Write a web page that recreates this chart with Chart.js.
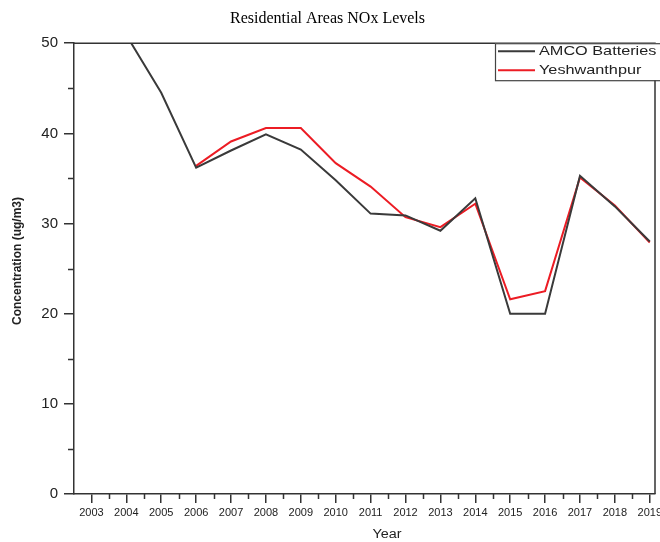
<!DOCTYPE html>
<html>
<head>
<meta charset="utf-8">
<script src="https://cdn.jsdelivr.net/npm/chart.js@4.4.1/dist/chart.umd.min.js"></script>
<style>
  html, body { margin: 0; padding: 0; background: #fff; }
  #wrap { width: 660px; height: 542px; }
</style>
</head>
<body>
<div id="wrap"><canvas id="c" width="660" height="542"></canvas></div>
<script>
// Years on the horizontal axis
const years = [2003, 2004, 2005, 2006, 2007, 2008, 2009, 2010, 2011, 2012, 2013, 2014, 2015, 2016, 2017, 2018, 2019];

// NOx concentration (ug/m3) per monitoring station
const amcoBatteries = [null, 50.9, 44.5, 36.2, 38.1, 39.9, 38.2, 34.8, 31.1, 30.9, 29.2, 32.8, 20.0, 20.0, 35.3, 31.9, 28.0];
const yeshwanthpur  = [null, null, null, 36.4, 39.1, 40.6, 40.6, 36.7, 34.1, 30.7, 29.6, 32.2, 21.6, 22.5, 35.1, 32.0, 27.9];

// Labelled ticks on the vertical axis
const yTickValues = [0, 10, 20, 30, 40, 50];

const seriesNames = ['AMCO Batteries', 'Yeshwanthpur'];
const seriesColors = ['#3a3a3a', '#ec1c24'];
const xAxisTitle = 'Year';
const yAxisTitle = 'Concentration (ug/m3)';

const toPoints = arr => years.map((y, i) => ({ x: y, y: arr[i] }));

const AXIS = '#333';
const SANS = '"Liberation Sans", Arial, sans-serif';

// draws text squeezed/widened horizontally by factor sx
function stretchedText(ctx, text, x, y, sx, align) {
  ctx.save();
  ctx.translate(x, y);
  ctx.scale(sx, 1);
  ctx.textAlign = align;
  ctx.fillText(text, 0, 0);
  ctx.restore();
}

// Frame, minor ticks, axis titles and the boxed legend
const decorations = {
  id: 'decorations',
  afterDraw(chart) {
    const { ctx, chartArea: a, scales } = chart;
    const xs = scales.x, ys = scales.y;
    ctx.save();
    ctx.strokeStyle = AXIS;
    ctx.lineWidth = 1.5;
    // top and right frame
    ctx.beginPath();
    ctx.moveTo(a.left, a.top);
    ctx.lineTo(a.right, a.top);
    ctx.lineTo(a.right, a.bottom);
    ctx.stroke();
    // minor ticks on x (half years)
    ctx.beginPath();
    for (let i = 0; i < years.length; i++) {
      const v = years[i] + 0.5;
      if (v > xs.max) break;
      const px = Math.round(xs.getPixelForValue(v)) + 0.5;
      ctx.moveTo(px, a.bottom);
      ctx.lineTo(px, a.bottom + 5);
    }
    // minor ticks on y
    for (let i = 0; i < yTickValues.length - 1; i++) {
      const v = (yTickValues[i] + yTickValues[i + 1]) / 2;
      const py = Math.round(ys.getPixelForValue(v)) + 0.5;
      ctx.moveTo(a.left, py);
      ctx.lineTo(a.left - 6, py);
    }
    ctx.stroke();

    // axis titles
    ctx.fillStyle = '#222';
    ctx.textBaseline = 'middle';
    ctx.font = '12px ' + SANS;
    stretchedText(ctx, xAxisTitle, 387, 535, 1.2, 'center');
    ctx.save();
    ctx.translate(18, 261);
    ctx.rotate(-Math.PI / 2);
    ctx.font = 'bold 12px ' + SANS;
    ctx.textAlign = 'center';
    ctx.fillText(yAxisTitle, 0, 0);
    ctx.restore();

    // legend box
    const lx = 495, ly = a.top, lw = 175, lh = 37;
    ctx.lineWidth = 1.2;
    ctx.strokeStyle = '#444';
    ctx.fillStyle = '#fff';
    ctx.fillRect(lx, ly, lw, lh);
    ctx.strokeRect(lx + 0.5, ly + 0.5, lw, lh);
    ctx.font = '13px ' + SANS;
    ctx.textBaseline = 'middle';
    chart.data.datasets.forEach((ds, i) => {
      const yy = ly + 8 + i * 19;
      ctx.strokeStyle = ds.borderColor;
      ctx.lineWidth = 2;
      ctx.beginPath();
      ctx.moveTo(lx + 3, yy);
      ctx.lineTo(lx + 40, yy);
      ctx.stroke();
      ctx.fillStyle = '#222';
      stretchedText(ctx, ds.label, lx + 44, yy, 1.25, 'left');
    });
    ctx.restore();
  }
};

new Chart(document.getElementById('c'), {
  type: 'line',
  data: {
    datasets: [
      { label: seriesNames[0], data: toPoints(amcoBatteries), borderColor: seriesColors[0], backgroundColor: seriesColors[0], borderWidth: 2, pointRadius: 0, tension: 0, spanGaps: false },
      { label: seriesNames[1], data: toPoints(yeshwanthpur), borderColor: seriesColors[1], backgroundColor: seriesColors[1], borderWidth: 2, pointRadius: 0, tension: 0, spanGaps: false }
    ]
  },
  options: {
    responsive: false,
    devicePixelRatio: 1,
    animation: false,
    layout: { padding: { left: 0, right: 5, top: 0, bottom: 0 } },
    plugins: {
      legend: { display: false },
      tooltip: { enabled: false },
      title: {
        display: true,
        text: 'Residential Areas NOx Levels',
        color: '#000',
        font: { family: '"Liberation Serif", "Times New Roman", serif', size: 16, weight: 'normal' },
        padding: { top: 9, bottom: 15 }
      }
    },
    scales: {
      x: {
        type: 'linear',
        min: 2002.5,
        max: 2019.15,
        afterBuildTicks: s => { s.ticks = years.map(v => ({ value: v })); },
        afterFit: s => { s.height = 48; s.paddingLeft = 0; s.paddingRight = 0; },
        ticks: {
          callback: v => String(v),
          autoSkip: false,
          maxRotation: 0,
          color: '#222',
          padding: 3,
          font: { family: SANS, size: 11 }
        },
        grid: { display: true, drawOnChartArea: false, tickLength: 9, color: AXIS, lineWidth: 1.5 },
        border: { display: true, color: AXIS, width: 1.5 }
      },
      y: {
        min: 0,
        max: 50,
        afterBuildTicks: s => { s.ticks = yTickValues.map(v => ({ value: v })); },
        afterFit: s => { s.width = 74; },
        ticks: {
          color: '#222',
          padding: 6,
          font: { family: SANS, size: 15 }
        },
        grid: { display: true, drawOnChartArea: false, tickLength: 10, color: AXIS, lineWidth: 1.5 },
        border: { display: true, color: AXIS, width: 1.5 }
      }
    }
  },
  plugins: [decorations]
});
</script>
</body>
</html>
